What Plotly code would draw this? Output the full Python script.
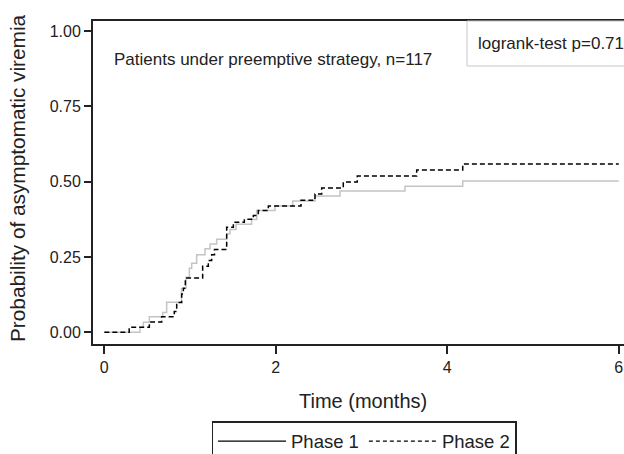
import plotly.graph_objects as go

# Phase 1 (solid, grey) Kaplan-Meier style cumulative step curve
phase1_t = [0, 0.416, 0.455, 0.525, 0.681, 0.727, 0.90, 0.953, 0.992, 1.019, 1.077,
            1.174, 1.233, 1.31, 1.427, 1.466, 1.536, 1.718, 1.777, 1.99, 2.197,
            2.457, 2.749, 3.507, 4.18, 6.0]
phase1_p = [0, 0.017, 0.033, 0.052, 0.066, 0.10, 0.145, 0.183, 0.213, 0.229, 0.257,
            0.277, 0.293, 0.309, 0.327, 0.341, 0.359, 0.374, 0.404, 0.419, 0.436,
            0.452, 0.469, 0.485, 0.502, 0.502]

# Phase 2 (dashed, black)
phase2_t = [0, 0.29, 0.525, 0.669, 0.816, 0.844, 0.902, 0.922, 0.945, 1.147, 1.213,
            1.252, 1.285, 1.427, 1.505, 1.633, 1.738, 1.796, 1.913, 2.294, 2.457,
            2.535, 2.787, 2.95, 3.643, 4.18, 6.0]
phase2_p = [0, 0.017, 0.034, 0.052, 0.069, 0.099, 0.127, 0.146, 0.180, 0.219, 0.238,
            0.257, 0.275, 0.349, 0.365, 0.375, 0.388, 0.404, 0.419, 0.438, 0.459,
            0.479, 0.499, 0.519, 0.539, 0.559, 0.559]

x_ticks = [0, 2, 4, 6]
y_ticks = [0, 0.25, 0.5, 0.75, 1.0]
y_tick_labels = ["0.00", "0.25", "0.50", "0.75", "1.00"]

FONT = "Liberation Sans, Arial, Helvetica, sans-serif"

fig = go.Figure()
fig.add_trace(go.Scatter(x=phase1_t, y=phase1_p, mode="lines", line_shape="hv",
                         line=dict(color="#c4c4c4", width=1.5), showlegend=False,
                         name="Phase 1"))
fig.add_trace(go.Scatter(x=phase2_t, y=phase2_p, mode="lines", line_shape="hv",
                         line=dict(color="black", width=1.5, dash="5px,3px"),
                         showlegend=False, name="Phase 2"))
# legend entries
fig.add_trace(go.Scatter(x=[None], y=[None], mode="lines", name="Phase 1",
                         line=dict(color="black", width=1.3)))
fig.add_trace(go.Scatter(x=[None], y=[None], mode="lines", name="Phase 2",
                         line=dict(color="black", width=1.3, dash="4px,3px")))

W, H = 624, 454
L, T, R, B = 93, 21, 0, 110
pw, ph = W - L - R, H - T - B

def px(xp):
    return (xp - L) / pw

def py(yp):
    return (H - B - yp) / ph

fig.update_layout(
    width=W, height=H,
    margin=dict(l=L, r=R, t=T, b=B, autoexpand=False),
    plot_bgcolor="white", paper_bgcolor="white",
    font=dict(family=FONT, size=17, color="#222"),
    xaxis=dict(range=[-0.132, 6.061], tickvals=x_ticks, ticks="outside", ticklen=8,
               tickwidth=1.5, tickcolor="#222", showline=True, linecolor="#222",
               linewidth=2, mirror=True, showgrid=False, zeroline=False,
               tickfont=dict(size=16), automargin=False),
    yaxis=dict(range=[-0.0388, 1.0332], tickvals=y_ticks, ticktext=y_tick_labels,
               ticks="outside", ticklen=7, tickwidth=1.5, tickcolor="#222",
               showline=True, linecolor="#222", linewidth=2, mirror=False,
               showgrid=False, zeroline=False, tickfont=dict(size=16),
               automargin=False),
    legend=dict(orientation="h", x=px(364), xanchor="center", y=py(421), yanchor="top",
                bordercolor="#222", borderwidth=1.5, bgcolor="white",
                font=dict(size=18.5), itemwidth=68, tracegroupgap=0),
    showlegend=True,
)

fig.add_shape(type="rect", xref="paper", yref="paper",
              x0=px(467), x1=px(640), y0=py(66), y1=py(21),
              line=dict(color="#c8c8c8", width=1), fillcolor="rgba(0,0,0,0)")

fig.add_annotation(text="Patients under preemptive strategy, n=117", xref="paper",
                   yref="paper", x=px(112), y=py(60), xanchor="left", yanchor="middle",
                   showarrow=False, font=dict(size=17))
fig.add_annotation(text="logrank-test p=0.71", xref="paper", yref="paper",
                   x=px(476), y=py(43), xanchor="left", yanchor="middle",
                   showarrow=False, font=dict(size=17))
fig.add_annotation(text="Time (months)", xref="paper", yref="paper",
                   x=px(363), y=py(401), xanchor="center", yanchor="middle",
                   showarrow=False, font=dict(size=20))
fig.add_annotation(text="Probability of asymptomatic viremia", xref="paper",
                   yref="paper", x=px(18), y=py(178), xanchor="center",
                   yanchor="middle", textangle=-90, showarrow=False,
                   font=dict(size=20.8))

fig.write_html("out.html",
               config={"displayModeBar": False},
               post_script="document.body.style.margin='0px';"
                           "document.body.style.overflow='hidden';")
